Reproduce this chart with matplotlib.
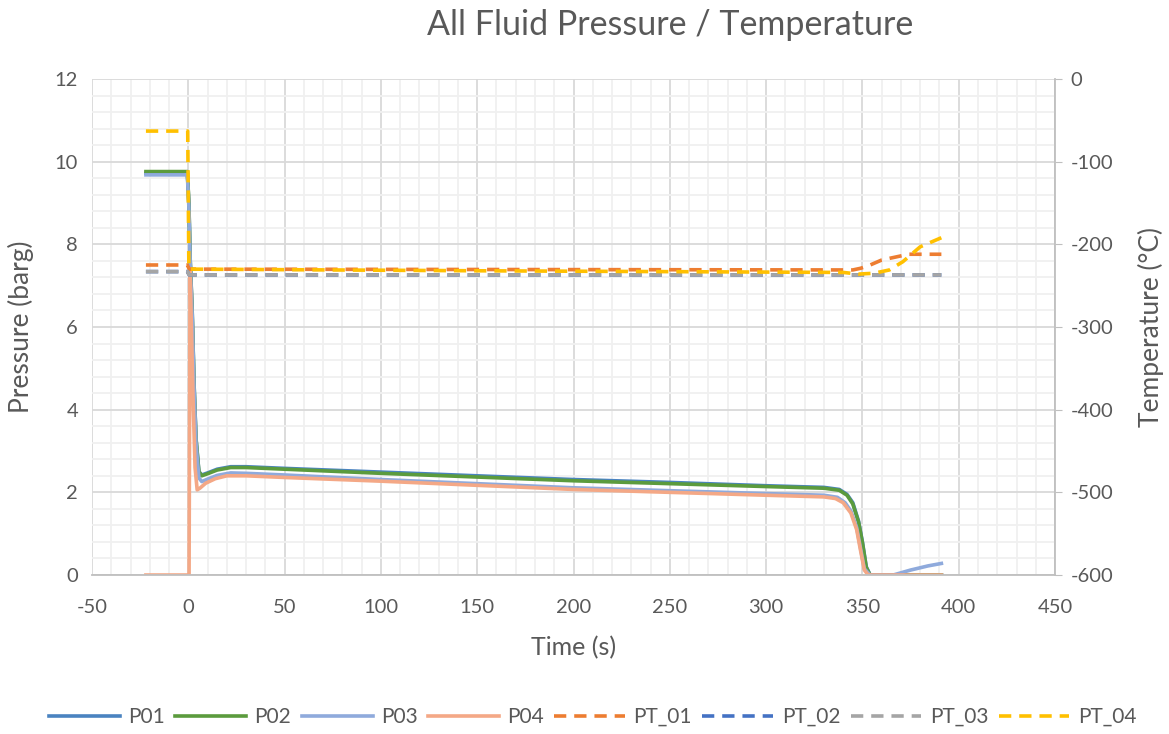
#!/usr/bin/env python3
# coding: utf-8
import matplotlib
matplotlib.use('Agg')
import matplotlib.pyplot as plt
from matplotlib.ticker import MultipleLocator

# pressure traces (barg)
t_p01 = [-22, -0.5, 0.3, 1, 2, 3, 4, 5.5, 7, 10, 15, 22, 30, 50, 100, 150, 200, 250, 300, 330, 338, 342, 345, 348, 350, 352, 354, 391]
p01 = [9.72, 9.72, 9.0, 7.6, 6.4, 4.6, 3.3, 2.5, 2.42, 2.47, 2.56, 2.62, 2.62, 2.58, 2.49, 2.40, 2.31, 2.24, 2.16, 2.12, 2.07, 1.95, 1.75, 1.30, 0.80, 0.20, 0.0, 0.0]

t_p02 = [-22, -0.5, 0.3, 1, 2, 3, 4, 5.5, 7, 10, 15, 22, 30, 50, 100, 150, 200, 250, 300, 330, 338, 342, 345, 348, 350, 352, 354, 391]
p02 = [9.76, 9.76, 9.0, 7.6, 6.4, 4.6, 3.3, 2.5, 2.40, 2.45, 2.54, 2.60, 2.60, 2.56, 2.46, 2.37, 2.28, 2.21, 2.14, 2.10, 2.05, 1.93, 1.72, 1.28, 0.78, 0.18, 0.0, 0.0]

t_p03 = [-22, -0.5, 0.3, 1, 2, 3, 4, 5.5, 7, 10, 15, 22, 30, 50, 100, 150, 200, 250, 300, 330, 337, 341, 344, 347, 349, 351, 354, 366, 375, 384, 391]
p03 = [9.68, 9.68, 8.9, 7.5, 6.3, 4.5, 3.2, 2.35, 2.26, 2.32, 2.41, 2.47, 2.46, 2.42, 2.31, 2.21, 2.11, 2.04, 1.97, 1.93, 1.88, 1.75, 1.55, 1.15, 0.65, 0.15, 0.0, 0.0, 0.12, 0.22, 0.28]

t_p04 = [-22, 0.4, 0.9, 1.6, 2.5, 3.5, 4.6, 6, 9, 14, 20, 30, 50, 100, 150, 200, 250, 300, 330, 336, 340, 344, 347, 349, 351, 353, 391]
p04 = [0.0, 0.0, 7.4, 6.0, 4.2, 2.6, 2.06, 2.1, 2.22, 2.33, 2.40, 2.40, 2.36, 2.27, 2.17, 2.07, 2.00, 1.93, 1.89, 1.85, 1.75, 1.50, 1.10, 0.60, 0.12, 0.0, 0.0]

# temperature traces (degC)
t_pt01 = [-22, -0.5, 0.5, 345, 349, 353, 360, 366, 374, 391]
pt01 = [-225, -225, -230, -231, -229, -226, -219, -216, -212, -212]

t_pt02 = [-22, -0.5, 0.5, 391]
pt02 = [-233, -233, -237, -237]

t_pt03 = [-22, -0.5, 0.5, 391]
pt03 = [-233, -233, -237, -237]

t_pt04 = [-22, -0.3, 0.3, 150, 340, 348, 356, 364, 371, 380, 391]
pt04 = [-63, -63, -230, -232, -234, -236, -235, -231, -221, -203, -192]

txt = '#595959'
plt.rcParams['font.family'] = ['Lato', 'DejaVu Sans']
plt.rcParams['axes.unicode_minus'] = False

fig = plt.figure(figsize=(11.69, 7.34), dpi=100)
ax1 = fig.add_axes([0.0787, 0.2166, 0.8238, 0.6758])
ax2 = ax1.twinx()

ax1.set_xlim(-50, 450)
ax1.set_ylim(0, 12)
ax2.set_ylim(-600, 0)

ax1.xaxis.set_major_locator(MultipleLocator(50))
ax1.xaxis.set_minor_locator(MultipleLocator(10))
ax1.yaxis.set_major_locator(MultipleLocator(2))
ax1.yaxis.set_minor_locator(MultipleLocator(0.4))
ax2.yaxis.set_major_locator(MultipleLocator(100))

ax1.grid(which='major', color='#D9D9D9', lw=1.3)
ax1.grid(which='minor', color='#F0F0F0', lw=1.3)
ax1.set_axisbelow(True)

for s in ['top', 'left', 'right']:
    ax1.spines[s].set_visible(False)
for s in ['top', 'left', 'bottom']:
    ax2.spines[s].set_visible(False)
ax1.spines['bottom'].set_color('#BFBFBF')
ax1.spines['bottom'].set_linewidth(1.3)
ax2.spines['right'].set_color('#BFBFBF')
ax2.spines['right'].set_linewidth(1.3)

ax1.tick_params(which='both', length=0, colors=txt, labelsize=14.5)
ax1.tick_params(axis='x', pad=17)
ax1.tick_params(axis='y', pad=10)
ax2.tick_params(which='both', length=5, color='#BFBFBF', labelcolor=txt, labelsize=14.5, pad=6)

ax1.set_xlabel('Time (s)', color=txt, fontsize=18, labelpad=15)
ax1.set_ylabel('Pressure (barg)', color=txt, fontsize=19, labelpad=15)
ax2.set_ylabel('Temperature (°C)', color=txt, fontsize=19, labelpad=18)

lw = 2.6
ln = []
ln += ax1.plot(t_p01, p01, color='#4A83C0', lw=lw, label='P01')
ln += ax1.plot(t_p02, p02, color='#5B9B3D', lw=lw, label='P02')
ln += ax1.plot(t_p03, p03, color='#8FAADC', lw=lw, label='P03')
ln += ax1.plot(t_p04, p04, color='#F4A886', lw=lw, label='P04')

dash = (3.4, 2.2)
ln += ax2.plot(t_pt01, pt01, color='#ED7D31', lw=lw, dashes=dash, label='PT_01')
ln += ax2.plot(t_pt02, pt02, color='#4472C4', lw=lw, dashes=dash, label='PT_02')
ln += ax2.plot(t_pt03, pt03, color='#A5A5A5', lw=lw, dashes=dash, label='PT_03')
ln += ax2.plot(t_pt04, pt04, color='#FFC000', lw=lw, dashes=dash, label='PT_04')

fig.text(0.573, 0.966, 'All Fluid Pressure / Temperature', ha='center', va='center',
         color=txt, fontsize=24.5)

leg = fig.legend(ln, [l.get_label() for l in ln], loc='center', bbox_to_anchor=(0.507, 0.023),
                 ncol=8, frameon=False, fontsize=15, handlelength=3.4, columnspacing=0.5,
                 handletextpad=0.4)
for t in leg.get_texts():
    t.set_color(txt)

plt.savefig('out.png')
